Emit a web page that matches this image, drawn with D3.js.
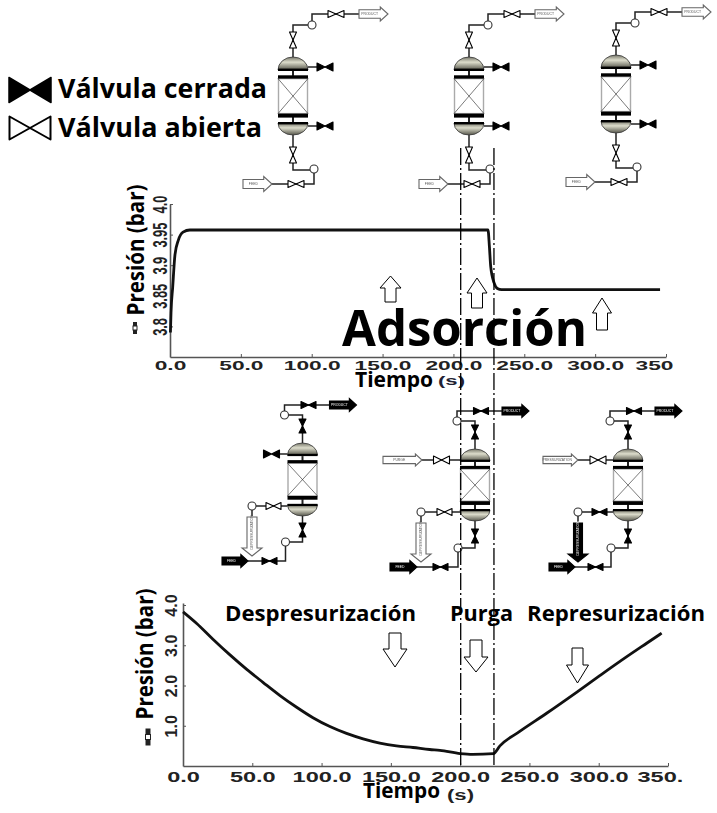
<!DOCTYPE html>
<html>
<head>
<meta charset="utf-8">
<script src="https://cdn.jsdelivr.net/npm/d3@7"></script>
<style>
html,body{margin:0;padding:0;background:#fff;}
svg{display:block;}
</style>
</head>
<body>
<div id="chart"></div>
<script>
// values
var timeTicks = [0,50,100,150,200,250,300,350];
var topTimeLabels = ["0.0","50.0","100.0","150.0","200.0","250.0","300.0","350"];
var lowTimeLabels = ["0.0","50.0","100.0","150.0","200.0","250.0","300.0","350."];
var topPressureTicks = [3.8,3.85,3.9,3.95,4.0];
var topPressureLabels = ["3.8","3.85","3.9","3.95","4.0"];
var lowPressureTicks = [1,2,3,4];
var lowPressureLabels = ["1.0","2.0","3.0","4.0"];

var adsTime = [0.3,0.7,1.9,3.5,5.9,9.2,14,100,200,224.4,225.4,226.3,228.7,231,234,300,345.8];
var adsPressure = [3.79,3.822,3.864,3.917,3.941,3.954,3.9575,3.9575,3.9575,3.9575,3.93,3.898,3.871,3.862,3.86,3.86,3.86];

var cycleTime = [0,9.9,21.6,33.9,46,57.7,70,82,93.8,106,118,130,142,154,166,178,185.4,200,209,224,228.7,243,262.4,284,301,320,334.6,345.4];
var cyclePressure = [3.83,3.54,3.15,2.76,2.4,2.08,1.75,1.46,1.2,0.98,0.81,0.675,0.57,0.5,0.46,0.41,0.39,0.31,0.29,0.31,0.5,0.86,1.31,1.83,2.25,2.71,3.05,3.3];

var stepBounds = [200.4,224.4];

var svg = d3.select("#chart").append("svg").attr("width",717).attr("height",813);
var defs = svg.append("defs");

var grad = defs.append("linearGradient").attr("id","dome").attr("x1",0).attr("y1",0).attr("x2",0).attr("y2",1);
grad.append("stop").attr("offset","0%").attr("stop-color","#77776a");
grad.append("stop").attr("offset","40%").attr("stop-color","#dcdccb");
grad.append("stop").attr("offset","100%").attr("stop-color","#55554a");
defs.append("filter").attr("id","soft").append("feGaussianBlur").attr("stdDeviation",0.4);

var sans = "'Liberation Sans',Arial,sans-serif";
var open = "'Open Sans',sans-serif";

// ---- charts
var xTop = d3.scaleLinear().domain([0,350]).range([170,666]);
var yTop = d3.scaleLinear().domain([3.75,4.0]).range([357,204]);
var xLow = d3.scaleLinear().domain([0,350]).range([183,668]);
var yLow = d3.scaleLinear().domain([0,4.05]).range([766,603]);

function drawChart(o){
    var g = svg.append("g");
    var xAxis = d3.axisBottom(o.x).tickValues(timeTicks)
        .tickFormat(function(d,i){return o.xLabels[i]})
        .tickSizeInner(-3).tickSizeOuter(0);
    var yAxis = d3.axisLeft(o.y).tickValues(o.yTicks)
        .tickFormat(function(d,i){return o.yLabels[i]})
        .tickSizeInner(-3).tickSizeOuter(0);

    var gx = g.append("g").attr("transform","translate(0,"+o.y.range()[0]+")").call(xAxis);
    var gy = g.append("g").attr("transform","translate("+o.x.range()[0]+",0)").call(yAxis);

    gx.selectAll("text")
        .attr("font-family",sans).attr("font-weight","bold").attr("font-size",o.xFont)
        .attr("fill","#222").attr("dy",0).attr("y",o.xBase)
        .attr("text-anchor",function(d){return d==350 ? "start" : "middle"})
        .attr("x",function(d){return d==350 ? -31/o.xStretch : 0})
        .attr("transform","scale("+o.xStretch+",1)");
    gy.selectAll("text")
        .attr("font-family",sans).attr("font-weight","bold").attr("font-size",o.yFont)
        .attr("fill","#222").attr("text-anchor","middle").attr("dy",0).attr("x",0).attr("y",o.yBase)
        .attr("transform","rotate(-90) scale("+o.yStretch+",1)");

    g.selectAll(".domain").attr("stroke","#555").attr("stroke-width",1.6);
    g.selectAll(".tick line").attr("stroke","#555").attr("stroke-width",1);

    var line = d3.line()
        .x(function(d,i){return o.x(o.times[i])})
        .y(function(d,i){return o.y(o.values[i])})
        .curve(d3.curveMonotoneX);
    g.append("path").attr("d",line(o.values))
        .attr("fill","none").attr("stroke","#111").attr("stroke-width",2.8);
}

drawChart({x:xTop,y:yTop,xLabels:topTimeLabels,yTicks:topPressureTicks,yLabels:topPressureLabels,
    times:adsTime,values:adsPressure,xFont:13,xBase:12.6,xStretch:1.75,yFont:20,yBase:-3,yStretch:0.64});
drawChart({x:xLow,y:yLow,xLabels:lowTimeLabels,yTicks:lowPressureTicks,yLabels:lowPressureLabels,
    times:cycleTime,values:cyclePressure,xFont:15,xBase:15.7,xStretch:1.57,yFont:16,yBase:-6,yStretch:1});

// ---- text
function label(txt,x,y,size,len,font,fill){
    var t = svg.append("text").attr("x",x).attr("y",y).attr("font-family",font||open)
        .attr("font-weight","bold").attr("font-size",size).attr("fill",fill||"#000").text(txt);
    if(len){ t.attr("textLength",len).attr("lengthAdjust","spacingAndGlyphs"); }
    return t;
}
label("Válvula cerrada",58,98,26,209);
label("Válvula abierta",58,137,26,204);
label("Adsorción",342,346,50,245);
label("Despresurización",225,621,21,191);
label("Purga",450,621,21,63);
label("Represurización",527,621,21,178);
label("Tiempo",355,387,22,78);
label("(s)",438,385,13,27,sans,"#223");
label("Tiempo",363,798,22,77);
label("(s)",447,800,14,27,sans,"#222");

function yTitle(x,yc){
    svg.append("text").attr("transform","translate("+x+","+yc+") rotate(-90)")
        .attr("text-anchor","middle").attr("font-family",open).attr("font-weight","bold")
        .attr("font-size",24).attr("fill","#000")
        .attr("textLength",131).attr("lengthAdjust","spacingAndGlyphs").text("Presión (bar)");
}
yTitle(144,250);
yTitle(153,654);

// little series marker beside the y titles
function marker(x,y,len,w,box){
    svg.append("line").attr("x1",x).attr("x2",x).attr("y1",y-len/2).attr("y2",y+len/2)
        .attr("stroke","#222").attr("stroke-width",w);
    svg.append("rect").attr("x",x-box/2).attr("y",y-box/2).attr("width",box).attr("height",box)
        .attr("fill","#fff").attr("stroke","#222").attr("stroke-width",1);
}
marker(135,328,12,4,4);
marker(148,737,17,5,5);

// ---- hollow arrows in the plots
function bigArrow(cx,tip,headBase,end,headW,shaftW){
    var p = d3.path();
    p.moveTo(cx,tip);
    p.lineTo(cx+headW/2,headBase);
    p.lineTo(cx+shaftW/2,headBase);
    p.lineTo(cx+shaftW/2,end);
    p.lineTo(cx-shaftW/2,end);
    p.lineTo(cx-shaftW/2,headBase);
    p.lineTo(cx-headW/2,headBase);
    p.closePath();
    svg.append("path").attr("d",p.toString()).attr("fill","#fff").attr("stroke","#000").attr("stroke-width",1);
}
bigArrow(390.5,276,288,302,21,11);
bigArrow(477,278,293,308,20,11);
bigArrow(602,298,313,330,19,11);
bigArrow(395,667,649,633,24,12);
bigArrow(476,672,657,640,24,12);
bigArrow(577.5,683,665,648,22,11);

// ---- flowsheets
var pid = svg.append("g").attr("filter","url(#soft)");

function pipe(pts,w){
    pid.append("path").attr("d",d3.line()(pts)).attr("fill","none")
        .attr("stroke","#222").attr("stroke-width",w||1.5);
}

function valve(parent,x,y,len,wid,vertical,closed,sw){
    var a = vertical ? [[x-wid/2,y-len/2],[x+wid/2,y-len/2],[x-wid/2,y+len/2],[x+wid/2,y+len/2]]
                     : [[x-len/2,y-wid/2],[x-len/2,y+wid/2],[x+len/2,y-wid/2],[x+len/2,y+wid/2]];
    parent.append("path")
        .attr("d","M"+a[0]+"L"+a[1]+"L"+[x,y]+"Z M"+a[2]+"L"+a[3]+"L"+[x,y]+"Z")
        .attr("fill",closed ? "#000" : "#fff")
        .attr("stroke","#000").attr("stroke-width",sw||1.1).attr("stroke-linejoin","round");
}

function junction(x,y){
    pid.append("circle").attr("cx",x).attr("cy",y).attr("r",4)
        .attr("fill","#fff").attr("stroke","#333").attr("stroke-width",1.1);
}

// block arrow pointing right from x0 to x1
function flowRight(x0,x1,y,h,filled,name){
    var head = h*0.55, s = h*0.3;
    pid.append("path")
        .attr("d","M"+[x0,y-s]+"L"+[x1-head,y-s]+"L"+[x1-head,y-h/2]+"L"+[x1,y]+"L"+[x1-head,y+h/2]+"L"+[x1-head,y+s]+"L"+[x0,y+s]+"Z")
        .attr("fill",filled ? "#000" : "#fff").attr("stroke",filled ? "#000" : "#666").attr("stroke-width",1.1);
    pid.append("text").attr("x",(x0+x1-head)/2).attr("y",y+1.2).attr("text-anchor","middle")
        .attr("font-family",sans).attr("font-size",3.4).attr("fill",filled ? "#fff" : "#555").text(name);
}

// block arrow pointing down, shaft between y0 and headBase
function flowDown(cx,y0,headBase,tip,shaftW,headW,filled,name){
    pid.append("path")
        .attr("d","M"+[cx-shaftW/2,y0]+"L"+[cx+shaftW/2,y0]+"L"+[cx+shaftW/2,headBase]+"L"+[cx+headW/2,headBase]+"L"+[cx,tip]+"L"+[cx-headW/2,headBase]+"L"+[cx-shaftW/2,headBase]+"Z")
        .attr("fill",filled ? "#000" : "#fff").attr("stroke",filled ? "#000" : "#666").attr("stroke-width",1.1);
    pid.append("text").attr("transform","translate("+(cx+1.2)+","+((y0+headBase)/2)+") rotate(-90)")
        .attr("text-anchor","middle").attr("font-family",sans).attr("font-size",3.4)
        .attr("fill",filled ? "#fff" : "#555").text(name);
}

// adsorber vessel, top of the upper dome at y0
function vessel(cx,y0,h){
    var k = h/78, hw = 15;
    function y(v){return y0+v*k}
    pipe([[cx,y(14)],[cx,y(19)]],2);
    pipe([[cx,y(60)],[cx,y(66)]],2);
    pid.append("path").attr("d","M"+[cx-hw,y(13)]+"A"+hw+" "+(13*k)+" 0 0 1 "+[cx+hw,y(13)]+"Z")
        .attr("fill","url(#dome)").attr("stroke","#333").attr("stroke-width",0.8);
    pid.append("path").attr("d","M"+[cx-hw,y(66)]+"A"+hw+" "+(12*k)+" 0 0 0 "+[cx+hw,y(66)]+"Z")
        .attr("fill","url(#dome)").attr("stroke","#333").attr("stroke-width",0.8);
    pid.append("rect").attr("x",cx-hw+0.5).attr("y",y(21.6)).attr("width",hw*2-1).attr("height",y(56.6)-y(21.6))
        .attr("fill","#fff").attr("stroke","#aaa").attr("stroke-width",1.4);
    pipe([[cx-hw,y(21.6)],[cx+hw,y(56.6)]],0.6);
    pipe([[cx+hw,y(21.6)],[cx-hw,y(56.6)]],0.6);
    [[11.6,2.4],[18.3,3.3],[56.6,4],[65,2.4]].forEach(function(b){
        pid.append("rect").attr("x",cx-hw).attr("y",y(b[0])).attr("width",hw*2).attr("height",b[1]*k)
            .attr("fill","#000");
    });
}

// top row: feed in at the bottom, product out of the top, side valves closed
function topColumn(cx,y0){
    pipe([[cx,y0],[cx,y0-32],[cx+15,y0-32]]);
    pipe([[cx+19,y0-36],[cx+19,y0-43],[cx+66,y0-43]]);
    valve(pid,cx,y0-17,16,7,true,false);
    valve(pid,cx+43,y0-43,16,7,false,false);
    junction(cx+19,y0-32);
    flowRight(cx+66,cx+95,y0-43,14,false,"PRODUCT");

    pipe([[cx+15,y0+10],[cx+24,y0+10]]);
    valve(pid,cx+32,y0+10,16,8,false,true);
    pipe([[cx+15,y0+69],[cx+24,y0+69]]);
    valve(pid,cx+32,y0+69,16,8,false,true);

    pipe([[cx,y0+78],[cx,y0+113],[cx+17,y0+113]]);
    valve(pid,cx,y0+98,16,7,true,false);
    junction(cx+21,y0+112);
    pipe([[cx+21,y0+116],[cx+21,y0+127],[cx-21,y0+127]]);
    valve(pid,cx+3,y0+127,16,7,false,false);
    flowRight(cx-50,cx-21,y0+127,15,false,"FEED");
}
topColumn(293,57);
topColumn(469,57);
topColumn(616,55);

[[293,57],[469,57],[616,55]].forEach(function(c){ vessel(c[0],c[1],78); });

function lowColumn(cx,y0,o){
    // top outlet
    pipe([[cx,y0],[cx,y0-28],[cx-14,y0-28]]);
    valve(pid,cx,y0-17,14,7,true,true);
    junction(cx-18,y0-28);
    pipe([[cx-18,y0-32],[cx-18,y0-38],[cx+27,y0-38]]);
    valve(pid,cx+6,y0-38,15,7,false,true);
    flowRight(cx+27,cx+54,y0-38,13,true,"PRODUCT");

    // upper side connection
    pipe([[cx-15,y0+11],[o.upper[0],y0+11]]);
    valve(pid,o.upperValve,y0+11,16,8,false,o.upperClosed);
    if(o.upperFeed){ flowRight(o.upperFeed[0],o.upperFeed[1],y0+11,12,false,o.upperName); }

    // lower side connection with the big vertical arrow
    pipe([[cx-15,y0+63],[o.jx+4,y0+63]]);
    valve(pid,o.lowValve,y0+63,15,7,false,o.lowClosed);
    junction(o.jx,y0+63);
    pipe([[o.jx,y0+67],[o.jx,y0+73]]);
    flowDown(o.jx,y0+74,y0+105,y0+113,o.downFilled ? 9 : 10,20,o.downFilled,"DEPRESSURIZATION");

    // bottom inlet
    pipe([[cx,y0+70],[cx,y0+99],[cx-13,y0+99]]);
    valve(pid,cx,y0+87,14,7,true,true);
    junction(cx-17,y0+99);
    pipe([[cx-17,y0+103],[cx-17,y0+118],[o.feed[1],y0+118]]);
    valve(pid,o.feedValve,y0+118,15,7,false,true);
    flowRight(o.feed[0],o.feed[1],y0+118,13,true,"FEED");
}
lowColumn(302.5,443,{upper:[279],upperValve:271.5,upperClosed:true,jx:252,lowValve:273.5,lowClosed:false,downFilled:false,feedValve:269.5,feed:[222,248]});
lowColumn(475,449,{upper:[422],upperValve:441.5,upperClosed:false,upperFeed:[383,422],upperName:"PURGE",jx:421,lowValve:444.5,lowClosed:false,downFilled:false,feedValve:440.5,feed:[390,417]});
lowColumn(628,449,{upper:[578],upperValve:598,upperClosed:false,upperFeed:[543,578],upperName:"PRESSURIZATION",jx:578,lowValve:599.5,lowClosed:true,downFilled:true,feedValve:595.5,feed:[549,575]});

vessel(302.5,443,73);
vessel(475,449,72);
vessel(628,449,72);

// ---- legend valves
valve(svg,30,90,42,25,false,true,1.5);
valve(svg,30,128,41,23,false,false,2);

// ---- step boundaries, dash-dot across both charts
svg.selectAll(".bound").data(stepBounds).enter().append("line")
    .attr("class","bound")
    .attr("x1",function(d){return xLow(d)})
    .attr("x2",function(d){return xLow(d)})
    .attr("y1",148).attr("y2",766)
    .attr("stroke","#000").attr("stroke-width",1.3)
    .attr("stroke-dasharray","17,3,2,3");
</script>
</body>
</html>
